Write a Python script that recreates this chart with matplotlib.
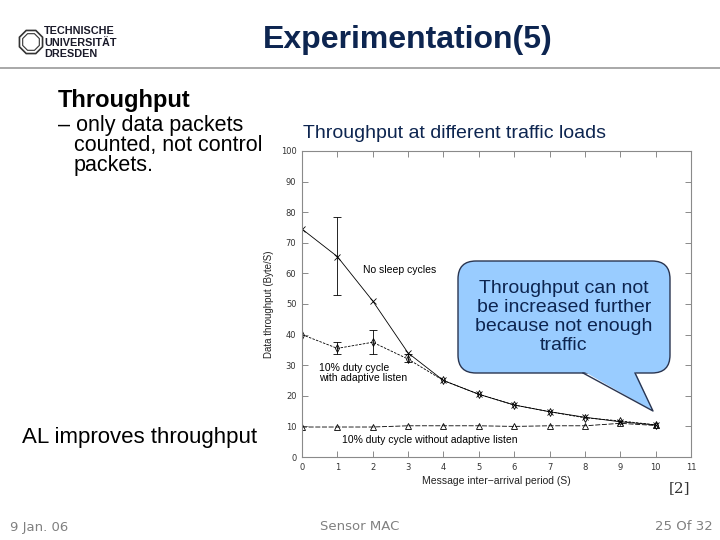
import matplotlib
matplotlib.use("Agg")
import matplotlib.pyplot as plt
from matplotlib.patches import FancyBboxPatch, Polygon, RegularPolygon

# data
periods = [0, 1, 2, 3, 4, 5, 6, 7, 8, 9, 10]
no_sleep = [74.5, 65.5, 51, 34, 25, 20.5, 17, 14.8, 13, 11.5, 10.5]
adaptive = [40, 35.5, 37.5, 32, 25, 20.5, 17, 14.8, 12.8, 11.8, 10.5]
no_adaptive = [9.8, 9.8, 9.8, 10.2, 10.2, 10.2, 10, 10.2, 10.2, 11, 10.3]

# error bars (x, low, high)
err_no_sleep = ([1], [53], [78.5])
err_adaptive = ([1, 2, 3], [33.5, 33.5, 31], [37.5, 41.5, 33.5])

x_ticks = list(range(0, 12))
y_ticks = list(range(0, 101, 10))

navy = "#0d2550"
arial = "Liberation Sans"

fig = plt.figure(figsize=(7.2, 5.4), dpi=100)
fig.patch.set_facecolor("white")

# ---- chart ----
ax = fig.add_axes([0.4194, 0.1537, 0.5403, 0.5667])
ax.plot(periods, no_sleep, color="black", lw=0.6, marker="x", ms=4, mew=0.6)
ax.plot(periods, adaptive, color="black", lw=0.6, ls=(0, (3, 1.5)), marker="d",
        ms=4, mew=0.6, fillstyle="none")
ax.plot(periods, no_adaptive, color="black", lw=0.6, ls=(0, (6, 2)), marker="^",
        ms=4, mew=0.6, fillstyle="none")

for xs, lo, hi, ys in [(err_no_sleep[0], err_no_sleep[1], err_no_sleep[2], no_sleep),
                       (err_adaptive[0], err_adaptive[1], err_adaptive[2], adaptive)]:
    yv = [ys[periods.index(v)] for v in xs]
    ax.errorbar(xs, yv, yerr=[[a - b for a, b in zip(yv, lo)], [b - a for a, b in zip(yv, hi)]],
                fmt="none", ecolor="black", elinewidth=0.6, capsize=3, capthick=0.6)

ax.set_xlim(0, 11)
ax.set_ylim(0, 100)
ax.set_xticks(x_ticks)
ax.set_yticks(y_ticks)
ax.tick_params(direction="in", top=True, right=True, length=4, width=0.6,
               color="#777777", labelsize=6, labelcolor="#333333", pad=4)
for sp in ax.spines.values():
    sp.set_color("#8a8a8a")
    sp.set_linewidth(0.8)
ax.set_xlabel("Message inter\u2212arrival period (S)", fontsize=7.5, family=arial,
              color="#222222", labelpad=3)
ax.set_ylabel("Data throughput (Byte/S)", fontsize=7, family=arial, color="#222222",
              labelpad=5)

ax.text(1.72, 61, "No sleep cycles", fontsize=7.5, family=arial, va="center")
ax.text(0.48, 27.6, "10% duty cycle\nwith adaptive listen", fontsize=7.5, family=arial,
        va="center", linespacing=1.0)
ax.text(1.14, 5.5, "10% duty cycle without adaptive listen", fontsize=7.5, family=arial,
        va="center")

# ---- slide decoration in pixel coords ----
ov = fig.add_axes([0, 0, 1, 1], zorder=5)
ov.set_xlim(0, 720)
ov.set_ylim(540, 0)
ov.axis("off")
ov.patch.set_alpha(0)

ov.text(408, 40, "Experimentation(5)", fontsize=23, family=arial, weight="bold",
        color=navy, ha="center", va="center")
ov.plot([0, 720], [67.5, 67.5], color="#9a9a9a", lw=1.2)

# logo
ov.add_patch(RegularPolygon((31, 42), 8, radius=12.5, orientation=0.3927,
                            fill=False, ec="#333333", lw=1.2))
ov.add_patch(RegularPolygon((31, 42), 8, radius=9, orientation=0.3927,
                            fill=False, ec="#333333", lw=0.8))
for i, w in enumerate(["TECHNISCHE", "UNIVERSIT\u00c4T", "DRESDEN"]):
    ov.text(44, 31 + i * 11.5, w, fontsize=7.8, family=arial, weight="bold",
            color="#1a1a2a", va="center")

ov.text(58, 100, "Throughput", fontsize=17, family=arial, weight="bold",
        va="center")
ov.text(58, 125, "\u2013 only data packets", fontsize=15.5, family=arial, va="center")
ov.text(74, 146, "counted, not control", fontsize=15.5, family=arial, va="center")
ov.text(74, 165, "packets.", fontsize=15.5, family=arial, va="center")
ov.text(303, 133, "Throughput at different traffic loads", fontsize=14, family=arial,
        color=navy, va="center")
ov.text(22, 438, "AL improves throughput", fontsize=16, family=arial, va="center")

# callout
fill_c = "#99ccff"
edge_c = "#2a3550"
ov.add_patch(FancyBboxPatch((458, 261), 212, 112, boxstyle="round,pad=0,rounding_size=18",
                            fc=fill_c, ec=edge_c, lw=1))
tail = [(583, 373), (653, 411), (635, 373)]
ov.add_patch(Polygon([(583, 371), (653, 411), (635, 371)], closed=True, fc=fill_c,
                     ec="none"))
ov.plot([tail[0][0], tail[1][0], tail[2][0]], [tail[0][1], tail[1][1], tail[2][1]],
        color=edge_c, lw=1)
ov.text(564, 317, "Throughput can not\nbe increased further\nbecause not enough\ntraffic",
        fontsize=14, family=arial, color=navy, ha="center", va="center",
        linespacing=1.13)

ov.text(690, 488, "[2]", fontsize=11, family="DejaVu Serif", color="#333333",
        ha="right", va="center")

# footer
foot_c = "#808080"
ov.text(10, 527, "9 Jan. 06", fontsize=9.5, family="DejaVu Sans", color=foot_c,
        va="center")
ov.text(360, 527, "Sensor MAC", fontsize=9.5, family="DejaVu Sans", color=foot_c,
        ha="center", va="center")
ov.text(713, 527, "25 Of 32", fontsize=9.5, family="DejaVu Sans", color=foot_c,
        ha="right", va="center")

fig.savefig("out.png", dpi=100)
